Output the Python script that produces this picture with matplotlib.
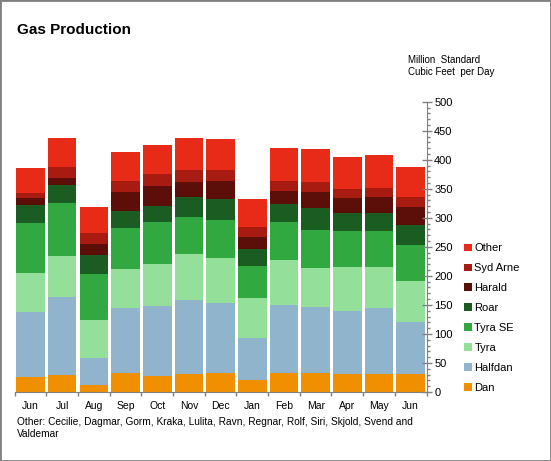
import matplotlib
matplotlib.use("Agg")
import matplotlib.pyplot as plt
import numpy as np
from matplotlib.ticker import MultipleLocator, FixedLocator, NullFormatter

plt.rcParams['font.family'] = ['Liberation Sans', 'DejaVu Sans']

months = ["Jun", "Jul", "Aug", "Sep", "Oct", "Nov", "Dec", "Jan", "Feb", "Mar", "Apr", "May", "Jun"]
series_names = ["Dan", "Halfdan", "Tyra", "Tyra SE", "Roar", "Harald", "Syd Arne", "Other"]

dan      = [25, 29, 12, 33, 28, 31, 33, 21, 33, 33, 31, 31, 31]
halfdan  = [113, 134, 47, 112, 120, 127, 121, 72, 117, 114, 108, 114, 90]
tyra     = [67, 71, 65, 67, 72, 79, 76, 69, 78, 67, 76, 71, 71]
tyra_se  = [86, 91, 79, 71, 72, 65, 67, 55, 65, 65, 62, 62, 62]
roar     = [31, 31, 33, 28, 28, 34, 36, 29, 31, 38, 31, 31, 34]
harald   = [12, 12, 19, 34, 34, 26, 31, 21, 22, 27, 26, 27, 31]
syd_arne = [9, 19, 19, 19, 21, 21, 19, 17, 17, 17, 16, 16, 16]
other    = [43, 50, 45, 50, 50, 55, 53, 48, 58, 57, 55, 57, 53]

colors = ["#F09000", "#8FB4CC", "#94E09A", "#32A940", "#1B5C22", "#5C0F08", "#A81B10", "#E82A18"]

data = [dan, halfdan, tyra, tyra_se, roar, harald, syd_arne, other]

W, H = 551, 461
fig = plt.figure(figsize=(W / 100, H / 100), dpi=100)
ax = fig.add_axes([14.7 / W, 1 - 392 / H, (426.5 - 14.7) / W, (392 - 101.7) / H])

x = np.arange(len(months))
bottom = np.zeros(len(months))
handles = []
for name, vals, c in zip(series_names, data, colors):
    b = ax.bar(x, vals, bottom=bottom, width=0.9, color=c, label=name, linewidth=0)
    handles.append(b)
    bottom += np.array(vals)

ax.set_xlim(-0.5, len(months) - 0.5)
ax.set_ylim(0, 500)

for s in ["top", "left"]:
    ax.spines[s].set_visible(False)
ax.spines["right"].set_color("#808080")
ax.spines["bottom"].set_color("#808080")

ax.yaxis.tick_right()
ax.yaxis.set_major_locator(MultipleLocator(50))
ax.yaxis.set_minor_locator(MultipleLocator(10))
ax.tick_params(axis="y", which="major", direction="inout", length=7, width=1, color="#808080",
               labelsize=8, pad=2)
ax.tick_params(axis="y", which="minor", direction="out", length=2.5, width=1, color="#808080")

ax.xaxis.set_major_locator(FixedLocator(np.arange(-0.5, len(months), 1.0)))
ax.xaxis.set_major_formatter(NullFormatter())
ax.xaxis.set_minor_locator(FixedLocator(x))
ax.set_xticklabels(months, minor=True)
ax.tick_params(axis="x", which="major", direction="out", length=3, width=1, color="#808080")
ax.tick_params(axis="x", which="minor", length=0, labelsize=7.5, pad=6.5)

leg = fig.legend(handles[::-1], series_names[::-1], loc="upper left",
                 bbox_to_anchor=(460 / W, 1 - 239 / H), frameon=False, fontsize=8,
                 handlelength=0.7, handleheight=0.7, handletextpad=0.2,
                 labelspacing=0.89, borderaxespad=0)

fig.text(17 / W, 1 - 30 / H, "Gas Production", fontsize=11, fontweight="bold",
         va="center", ha="left")
fig.text(408 / W, 1 - 55 / H, "Million  Standard\nCubic Feet  per Day", fontsize=7,
         va="top", ha="left", linespacing=1.3)
fig.text(17 / W, 1 - 417 / H,
         "Other: Cecilie, Dagmar, Gorm, Kraka, Lulita, Ravn, Regnar, Rolf, Siri, Skjold, Svend and\nValdemar",
         fontsize=7.3, va="top", ha="left", linespacing=1.3)

border = plt.Rectangle((0, 0), 1, 1, transform=fig.transFigure, fill=False,
                       edgecolor="#808080", linewidth=2)
fig.patches.append(border)

fig.savefig("out.png", dpi=100)
